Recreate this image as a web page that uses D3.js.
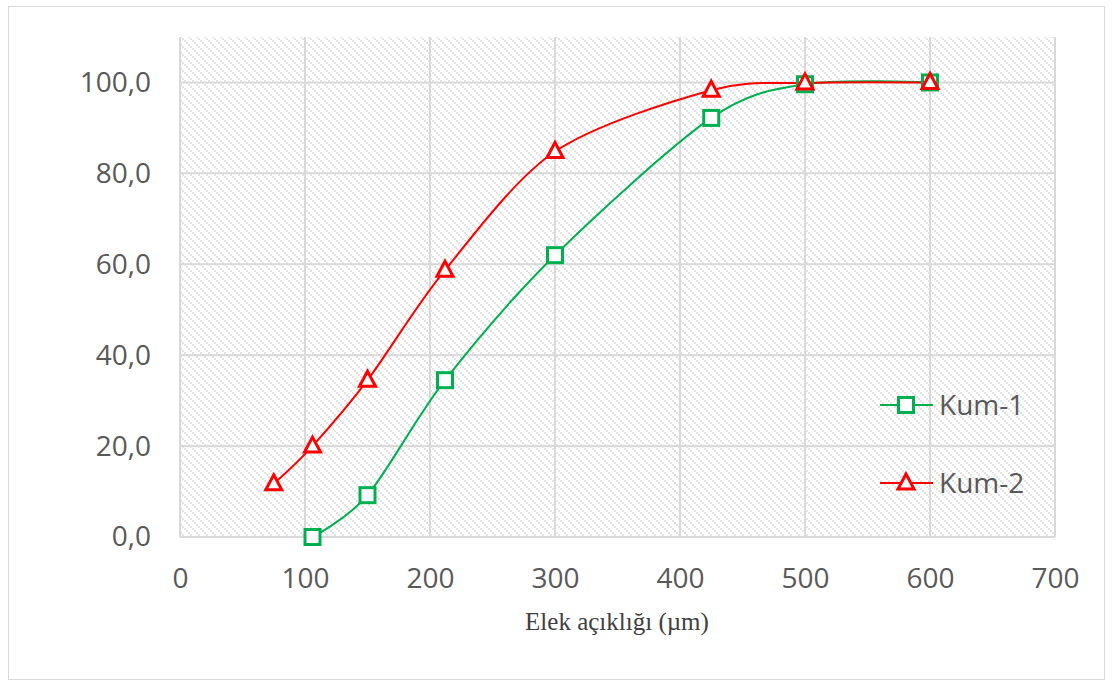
<!DOCTYPE html>
<html>
<head>
<meta charset="utf-8">
<script src="https://cdn.jsdelivr.net/npm/d3@7"></script>
<style>
  body { margin: 0; background: #fff; }
  svg text { font-family: "Open Sans", "Noto Sans", sans-serif; }
</style>
</head>
<body>
<svg id="chart" width="1112" height="686"></svg>
<script>
// sieve opening (µm) and % passing
const kum1X = [106, 150, 212, 300, 425, 500, 600];
const kum1Y = [0, 9.2, 34.5, 62.0, 92.2, 99.6, 100];
const kum2X = [75, 106, 150, 212, 300, 425, 500, 600];
const kum2Y = [11.7, 20.0, 34.5, 58.7, 84.8, 98.3, 99.9, 100];
const xTicks = [0, 100, 200, 300, 400, 500, 600, 700];
const yTicks = [0, 20, 40, 60, 80, 100];
const seriesNames = ["Kum-1", "Kum-2"];

const svg = d3.select("#chart");
const margin = {left: 180, right: 57, top: 37, bottom: 149};
const W = 1112, H = 686;

// outer chart border
svg.append("rect")
  .attr("x", 8.5).attr("y", 6.5)
  .attr("width", 1096).attr("height", 673)
  .attr("fill", "#fff").attr("stroke", "#d9d9d9");

const x = d3.scaleLinear().domain([0, 700]).range([margin.left, W - margin.right]);
const y = d3.scaleLinear().domain([0, 110]).range([H - margin.bottom, margin.top]);

// hatched plot background
const defs = svg.append("defs");
const pat = defs.append("pattern")
  .attr("id", "hatch").attr("patternUnits", "userSpaceOnUse")
  .attr("width", 8).attr("height", 8);
pat.append("rect").attr("width", 8).attr("height", 8).attr("fill", "#fff");
[[0, 0], [2, 2], [4, 4], [6, 6]].forEach(p => {
  pat.append("rect").attr("x", p[0]).attr("y", p[1])
    .attr("width", 2).attr("height", 2).attr("fill", "#e3e3e3");
});

svg.append("rect")
  .attr("x", x(0)).attr("y", y(110))
  .attr("width", x(700) - x(0)).attr("height", y(0) - y(110))
  .attr("fill", "url(#hatch)");

// grid
const grid = svg.append("g").attr("stroke", "#d9d9d9").attr("stroke-width", 2);
grid.selectAll(".vg").data(xTicks).enter().append("line")
  .attr("x1", d => x(d)).attr("x2", d => x(d))
  .attr("y1", y(110)).attr("y2", y(0));
grid.selectAll(".hg").data(yTicks).enter().append("line")
  .attr("x1", x(0)).attr("x2", x(700))
  .attr("y1", d => y(d)).attr("y2", d => y(d));

// axes (labels only)
const fmt = d => d3.format(".1f")(d).replace(".", ",");
const yAxis = svg.append("g")
  .attr("transform", `translate(${x(0)},0)`)
  .call(d3.axisLeft(y).tickValues(yTicks).tickFormat(fmt).tickSize(0).tickPadding(29));
const xAxis = svg.append("g")
  .attr("transform", `translate(0,${y(0)})`)
  .call(d3.axisBottom(x).tickValues(xTicks).tickSize(0).tickPadding(31));
[yAxis, xAxis].forEach(a => {
  a.select(".domain").remove();
  a.selectAll("text").attr("fill", "#595959").style("font-size", "28px")
    .style("font-family", "'Open Sans', sans-serif");
});

svg.append("text")
  .attr("x", 617).attr("y", 630)
  .attr("text-anchor", "middle")
  .style("font-family", "'Liberation Serif', 'DejaVu Serif', serif")
  .style("font-size", "25px").attr("fill", "#404040")
  .text("Elek açıklığı (µm)");

const line = d3.line().x(d => x(d[0])).y(d => y(d[1])).curve(d3.curveCardinal.tension(0.1));

const series = [
  {name: seriesNames[0], pts: d3.zip(kum1X, kum1Y), color: "#00b050", shape: "square"},
  {name: seriesNames[1], pts: d3.zip(kum2X, kum2Y), color: "#ff0000", shape: "triangle"}
];

function marker(g, s, cx, cy) {
  if (s.shape === "square") {
    g.append("rect").attr("x", cx - 7.5).attr("y", cy - 7.5)
      .attr("width", 15).attr("height", 15)
      .attr("fill", "#fff").attr("stroke", s.color).attr("stroke-width", 3);
  } else {
    g.append("path")
      .attr("d", `M${cx},${cy - 9}L${cx + 8},${cy + 6}L${cx - 8},${cy + 6}Z`)
      .attr("fill", "#fff").attr("stroke", s.color).attr("stroke-width", 3)
      .attr("stroke-linejoin", "miter");
  }
}

series.forEach(s => {
  svg.append("path").datum(s.pts)
    .attr("d", line).attr("fill", "none")
    .attr("stroke", s.color).attr("stroke-width", 2);
});
series.forEach(s => {
  const g = svg.append("g");
  s.pts.forEach(p => marker(g, s, x(p[0]), y(p[1])));
});

// legend
const legY = [405, 483];
series.forEach((s, i) => {
  const g = svg.append("g");
  g.append("line").attr("x1", 880).attr("x2", 933)
    .attr("y1", legY[i]).attr("y2", legY[i])
    .attr("stroke", s.color).attr("stroke-width", 2);
  marker(g, s, 906, legY[i]);
  g.append("text").attr("x", 939).attr("y", legY[i] + 10)
    .attr("fill", "#595959").style("font-size", "28px")
    .text(s.name);
});
</script>
</body>
</html>
